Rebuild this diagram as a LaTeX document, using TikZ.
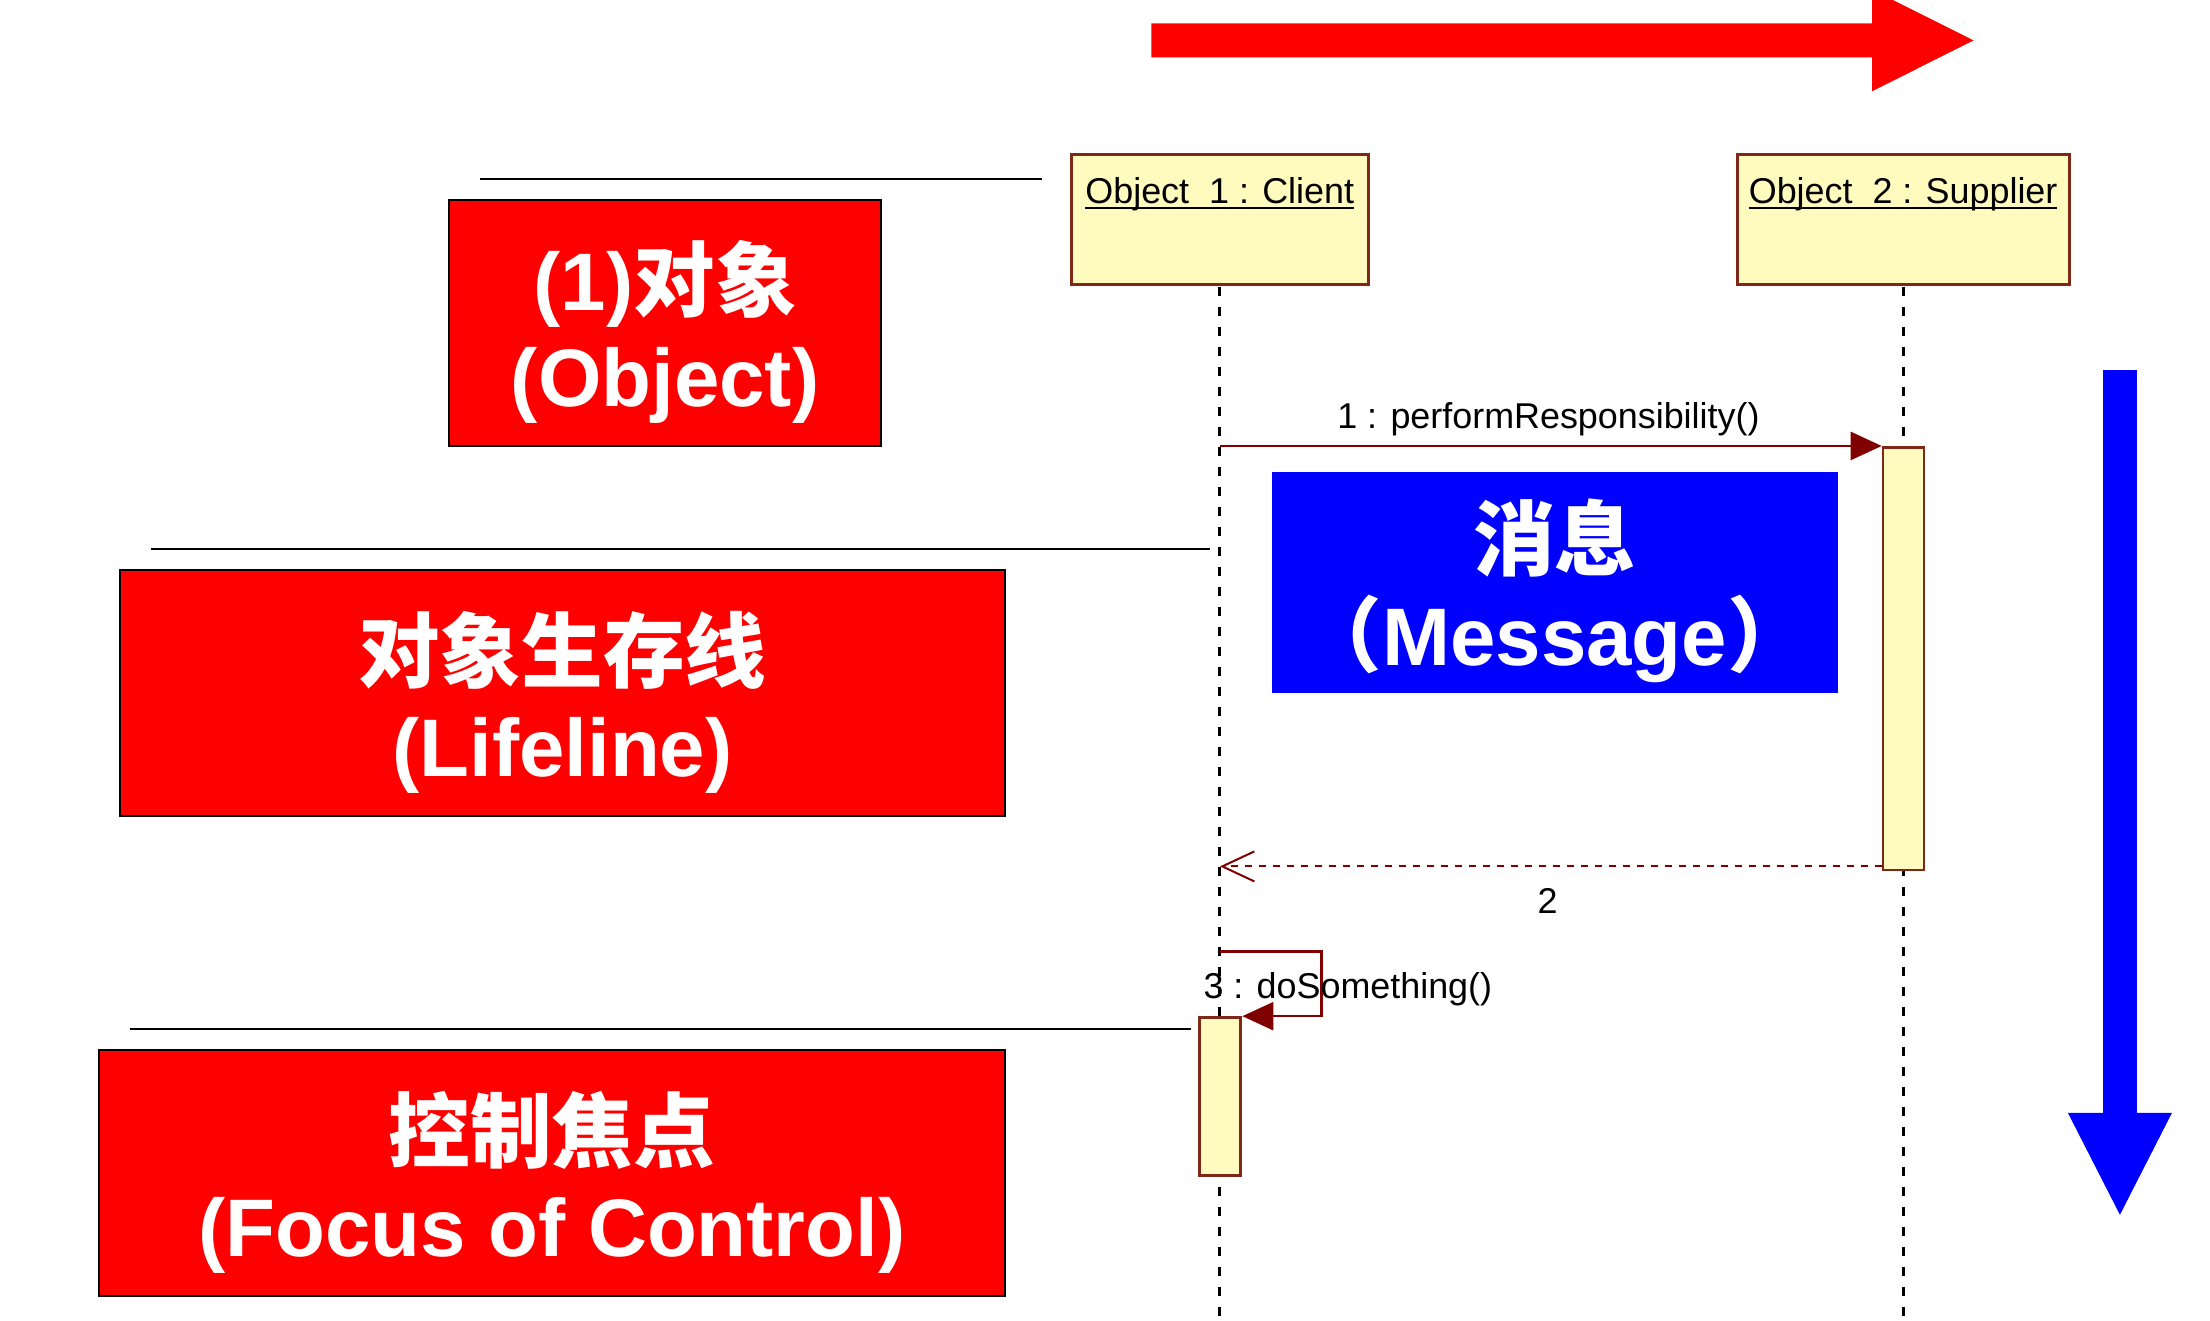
\documentclass[tikz,border=0pt]{standalone}
\usepackage{fontspec}
\setmainfont{Liberation Sans}
\newfontfamily\cjk{Noto Sans CJK SC}
\usepackage{tikz}
\usetikzlibrary{arrows.meta, calc}
\definecolor{umlfill}{RGB}{255,250,190}
\definecolor{umlline}{RGB}{128,40,24}
\definecolor{msgred}{RGB}{128,0,0}
\newcommand{\zh}[1]{{\cjk\bfseries #1}}
\newcommand{\uln}[1]{\setbox0\hbox{#1}\rlap{\rule[-4pt]{\wd0}{1.5pt}}\box0}
\newcommand{\hstrut}{\rule{0pt}{1.08em}}

\begin{document}
\begin{tikzpicture}[x=1pt, y=-1pt, scale=1.4076,
  every node/.append style={transform shape},
  note/.style={
    align=center,
    rectangle,
    draw=black,
    line width=2pt,
    fill=red,
    text=white,
    minimum height=175,
    inner sep=0pt,
    font=\bfseries\fontsize{58}{68}\selectfont
  },
  msgnote/.style={
    note,
    draw=none,
    fill=blue,
    minimum width=402,
    minimum height=157
  },
  object/.style={
    rectangle,
    draw=umlline,
    fill=umlfill,
    line width=3pt,
    minimum height=92,
    inner sep=0pt
  },
  activation/.style={
    rectangle,
    draw=umlline,
    fill=umlfill,
    line width=2.5pt,
    minimum width=29,
    inner sep=0pt
  },
  objname/.style={
    font=\fontsize{25.5}{30}\selectfont
  },
  msglabel/.style={
    inner sep=0pt,
    font=\fontsize{25.5}{30}\selectfont
  },
  lifeline/.style={
    line width=3pt,
    dash pattern=on 9pt off 11pt
  },
  msg/.style={
    draw=msgred,
    line width=2.5pt,
    -{Triangle[length=31pt, width=28pt]}
  },
  reply/.style={
    draw=msgred,
    line width=2pt,
    dash pattern=on 7pt off 7pt,
    -{Straight Barb[length=32pt, width=30pt]}
  },
  leader/.style={
    line width=2.5pt
  }
  ]

  \useasboundingbox (0,0) rectangle (1570,937.8);

  % direction arrows
  \fill[red] (818,16.6) -- (1330,16.6) -- (1330,-7.4) -- (1402,28.7)
    -- (1330,64.8) -- (1330,40.7) -- (818,40.7) -- cycle;
  \fill[blue] (1494,263) -- (1518,263) -- (1518,790.5) -- (1543,790.5)
    -- (1506,863) -- (1469,790.5) -- (1494,790.5) -- cycle;

  \node [object, minimum width=211] (obj1) at (866.5,156) {};
  \node [object, minimum width=236] (obj2) at (1352,156) {};
  \node [objname] (obj1name) at (866.5,138) {\uln{Object~~1 : Client}};
  \node [objname] (obj2name) at (1352,138) {\uln{Object~~2 : Supplier}};

  \coordinate (bottom) at (0,940);
  \draw [lifeline] (obj1.south) -- (obj1.south |- bottom);
  \draw [lifeline] (obj2.south) -- (obj2.south |- bottom);

  \node [activation, minimum height=300] (act2) at (obj2.south |- 0,468) {};
  \node [activation, minimum height=112] (act1) at (obj1.south |- 0,779) {};

  \draw [msg] (act2.north west -| obj1.south) -- (act2.north west);
  \node [msglabel] (lbl1) at (1100,297.5) {1 : performResponsibility()};

  \coordinate (ret2) at ($(act2.south west)+(0,-4)$);
  \draw [reply] (ret2) -- (ret2 -| obj1.south);
  \node [msglabel] (lbl2) at (1099.5,640) {2};

  \draw [msg] (obj1.south |- 0,676) -- ++(72,0) |- (act1.north east);
  \node [msglabel] (lbl3) at (957.5,703) {3 : doSomething()};

  \node [note, minimum width=307] (lbobj) at (472.5,229.5)
    {\hstrut(1)\zh{对象}\\(Object)};
  \node [note, minimum width=629] (lblife) at (399.5,492.5)
    {\hstrut\zh{对象生存线}\\(Lifeline)};
  \node [note, minimum width=644] (lbfocus) at (392,833.5)
    {\hstrut\zh{控制焦点}\\(Focus of Control)};
  \node [msgnote] (lbmsg) at (1104.5,413.5)
    {\hstrut\zh{消息}\\\zh{（}Message\zh{）}};

  \coordinate (ld1) at (341,127);
  \coordinate (ld2) at (107,390);
  \coordinate (ld3) at (92,731);
  \draw [leader, shorten >=27pt] (ld1) -- (ld1 -| obj1.west);
  \draw [leader, shorten >=10pt] (ld2) -- (ld2 -| obj1.south);
  \draw [leader, shorten >=7pt] (ld3) -- (ld3 -| act1.west);

\end{tikzpicture}
\end{document}
